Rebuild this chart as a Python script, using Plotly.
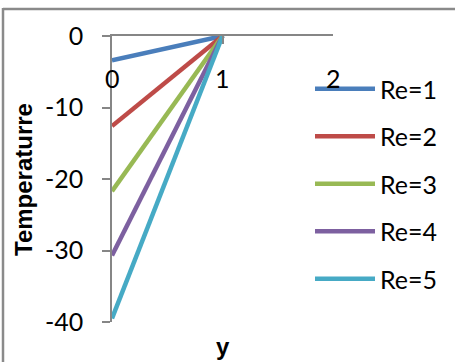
import plotly.graph_objects as go

# Temperature profiles across the channel for several Reynolds numbers
y_pos = [0, 1]
series_names = ["Re=1", "Re=2", "Re=3", "Re=4", "Re=5"]
temperature = [
    [-3.4, 0],
    [-12.6, 0],
    [-21.7, 0],
    [-30.7, 0],
    [-39.5, 0],
]
colors = ["#4A7EBB", "#BE4B48", "#98B954", "#7D60A0", "#46AAC5"]

x_ticks = [0, 1, 2]
y_ticks = [-40, -30, -20, -10, 0]

FONT = "Lato"
TITLE_FONT = "Liberation Sans"

fig = go.Figure()
for name, vals, col in zip(series_names, temperature, colors):
    fig.add_trace(go.Scatter(
        x=y_pos, y=vals, name=name, mode="lines", legendgroup=name,
        line=dict(color=col, width=4.5),
    ))

W, H = 455, 362
L, R, T, B = 112, 122, 36, 40
pw, ph = W - L - R, H - T - B

def px_x(p):
    return (p - L) / pw

def px_y(p):
    return (H - B - p) / ph

fig.update_layout(
    width=W, height=H,
    margin=dict(l=L, r=R, t=T, b=B),
    paper_bgcolor="white", plot_bgcolor="white",
    font=dict(family=FONT, size=25, color="#000000"),
    showlegend=True,
    legend=dict(
        x=px_x(310), y=px_y(66), xanchor="left", yanchor="top",
        bgcolor="rgba(0,0,0,0)", font=dict(family=FONT, size=25),
        tracegroupgap=12, itemwidth=60,
    ),
    xaxis=dict(
        range=[0, 2], tickvals=x_ticks,
        side="top", showgrid=False, zeroline=False,
        showline=True, linecolor="#868686", linewidth=1.5,
        ticks="inside", ticklen=8, tickcolor="#868686", tickwidth=1.5,
        showticklabels=False,
        fixedrange=True,
    ),
    yaxis=dict(
        range=[-40, 0], tickvals=y_ticks, ticktext=[str(v) for v in y_ticks],
        showgrid=False, zeroline=False,
        showline=True, linecolor="#868686", linewidth=1.5,
        ticks="outside", ticklen=8, tickcolor="#868686", tickwidth=1.5,
        ticklabelstandoff=14,
        tickfont=dict(family=FONT, size=25),
        fixedrange=True,
    ),
)

# x tick labels sit just below the axis line, which runs along y = 0
for v in x_ticks:
    fig.add_annotation(
        text=str(v), xref="x", yref="paper",
        x=v, y=px_y(78), showarrow=False,
        xanchor="center", yanchor="middle",
        font=dict(family=FONT, size=25),
    )

# axis titles
fig.add_annotation(
    text="<b>y</b>", xref="paper", yref="paper",
    x=px_x(223), y=px_y(346), showarrow=False,
    xanchor="center", yanchor="middle",
    font=dict(family=TITLE_FONT, size=24),
)
fig.add_annotation(
    text="<b>Temperaturre</b>", xref="paper", yref="paper",
    x=px_x(23), y=px_y(180), showarrow=False, textangle=-90,
    xanchor="center", yanchor="middle",
    font=dict(family=TITLE_FONT, size=24),
)

# chart frame (left and top edges)
fig.add_shape(type="line", xref="paper", yref="paper",
              x0=px_x(3), x1=px_x(3), y0=px_y(8), y1=px_y(400),
              line=dict(color="#8A8A8A", width=2.5))
fig.add_shape(type="line", xref="paper", yref="paper",
              x0=px_x(3), x1=px_x(500), y0=px_y(9), y1=px_y(9),
              line=dict(color="#8A8A8A", width=2.5))

fig.write_html("out.html")
